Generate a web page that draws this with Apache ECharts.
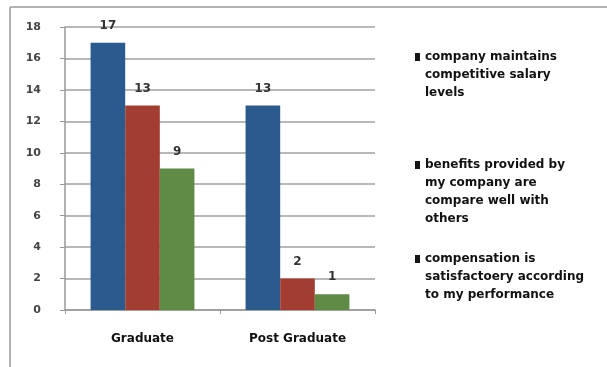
<!DOCTYPE html>
<html>
<head>
<meta charset="utf-8">
<script src="https://cdn.jsdelivr.net/npm/echarts@6/dist/echarts.min.js"></script>
<style>html,body{margin:0;padding:0;background:#fff;}#c{width:607px;height:367px;}</style>
</head>
<body>
<div id="c"></div>
<script>
const categories = ['Graduate', 'Post Graduate'];
const seriesNames = [
  'company maintains\ncompetitive salary\nlevels',
  'benefits provided by\nmy company are\ncompare well with\nothers',
  'compensation is\nsatisfactoery according\nto my performance'
];
const salaryValues = [17, 13];
const benefitValues = [13, 2];
const compensationValues = [9, 1];
const yTicks = [0, 2, 4, 6, 8, 10, 12, 14, 16, 18];

const colors = ['#2b5b8e', '#a23d31', '#5f8b45'];
const font = 'DejaVu Sans';
const valuesList = [salaryValues, benefitValues, compensationValues];
const legendTops = [43, 151, 245];

const chart = echarts.init(document.getElementById('c'), null, {renderer: 'canvas'});
const lineH = 18;
chart.setOption({
  animation: false,
  backgroundColor: '#fff',
  grid: {left: 65, right: 232, top: 27, bottom: 57},
  legend: seriesNames.map((n, i) => {
    const H = n.split('\n').length * lineH;
    return {
      data: [{name: n, itemStyle: {color: '#151515'}}],
      left: 410, top: legendTops[i],
      orient: 'vertical',
      itemWidth: 5, itemHeight: H, itemGap: 6,
      icon: 'path://M0,0l0.01,0M0,5h5v8h-5zM0,' + H + 'l0.01,0',
      symbolKeepAspect: false,
      selectedMode: false,
      textStyle: {fontFamily: font, fontWeight: 'bold', fontSize: 12, color: '#111', lineHeight: lineH}
    };
  }),
  xAxis: {
    type: 'category', data: categories,
    axisLine: {lineStyle: {color: '#999', width: 1.5}},
    axisTick: {show: true, length: 4, lineStyle: {color: '#999'}},
    axisLabel: {margin: 23, fontFamily: font, fontWeight: 'bold', fontSize: 12, color: '#111'}
  },
  yAxis: {
    type: 'value', min: 0, max: 18, interval: 2,
    axisLine: {show: true, lineStyle: {color: '#999', width: 1.5}},
    axisTick: {show: true, length: 5, lineStyle: {color: '#999'}},
    axisLabel: {margin: 24, fontFamily: font, fontWeight: 'bold', fontSize: 11, color: '#444',
      formatter: v => yTicks.includes(v) ? String(v) : ''},
    splitLine: {lineStyle: {color: '#a0a0a0', width: 1.5}}
  },
  series: seriesNames.map((n, i) => ({
    name: n, type: 'bar', data: valuesList[i],
    barGap: '0%', barCategoryGap: '33%',
    itemStyle: {color: colors[i]},
    label: {show: true, position: 'top', distance: 11, fontFamily: font, fontWeight: 'bold', fontSize: 12, color: '#333'}
  })),
  graphic: [
    {type: 'line', shape: {x1: 10, y1: 7, x2: 607, y2: 7}, style: {stroke: '#9a9a9a', lineWidth: 1.5}, silent: true},
    {type: 'line', shape: {x1: 10, y1: 7, x2: 10, y2: 367}, style: {stroke: '#9a9a9a', lineWidth: 1.5}, silent: true}
  ]
});
</script>
</body>
</html>
